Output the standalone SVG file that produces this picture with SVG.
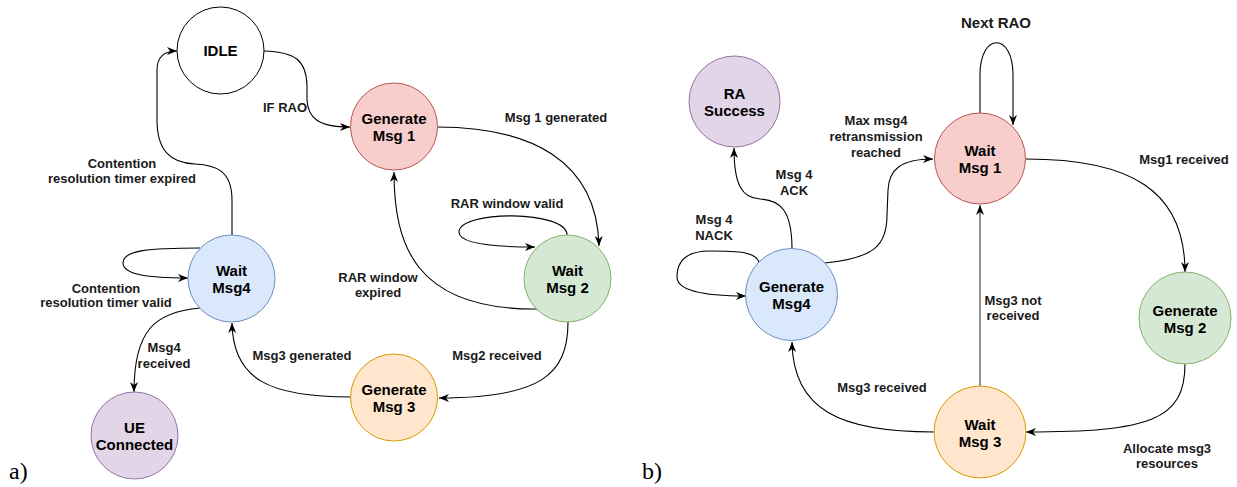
<svg xmlns="http://www.w3.org/2000/svg" width="1237" height="487" viewBox="0 0 1237 487">
<style>
.n{stroke-width:1}
.t{font-family:"Liberation Sans",Arial,sans-serif;font-weight:bold;font-size:15px;text-anchor:middle;fill:#000}
.l{font-family:"Liberation Sans",Arial,sans-serif;font-weight:bold;font-size:13px;text-anchor:middle;fill:#1a1a1a}
.e{fill:none;stroke:#000;stroke-width:1.1;marker-end:url(#arr)}
.g{fill:none;stroke:#555;stroke-width:1.3;marker-end:url(#arr)}
.red{fill:#f8cecc;stroke:#b85450}
.green{fill:#d5e8d4;stroke:#82b366}
.blue{fill:#dae8fc;stroke:#6c8ebf}
.orange{fill:#ffe6cc;stroke:#d79b00}
.purple{fill:#e1d5e7;stroke:#9673a6}
.white{fill:#fff;stroke:#000}
.cap{font-family:"Liberation Serif","Times New Roman",serif;font-size:24px;fill:#000}
</style>
<defs>
<marker id="arr" markerUnits="userSpaceOnUse" markerWidth="12" markerHeight="10" refX="10" refY="4" orient="auto">
<path d="M0,0 L10,4 L0,8 L3,4 z" fill="#000"/>
</marker>
</defs>
<rect width="1237" height="487" fill="#fff"/>

<g id="connectors">
<path class="e" d="M264,51 C295,52 306,60 307,85 L307,100 C308,118 318,127 350,127"/>
<path class="e" d="M437,127 C530,127 597,160 599,246"/>
<path class="e" d="M567,235 C567,210 459,210 459,232 C459,245 500,247 535,247"/>
<path class="e" d="M537,309 C415,310 394,245 394,172"/>
<path class="e" d="M568,322 C568,375 540,398 439,398"/>
<path class="e" d="M351,397 C270,397 233,380 232,323"/>
<path class="e" d="M200,308 C155,312 134,330 134,392"/>
<path class="e" d="M200,248 C150,248 123,250 123,263 C123,275 150,278 188,278"/>
<path class="e" d="M232,235 L232,200 C232,170 215,165 195,164 C170,163 157,150 157,120 L157,70 C157,58 163,51 177,51"/>

<path class="e" d="M980,113 L980,75 C980,32 1013,32 1013,75 L1013,125"/>
<path class="e" d="M1026,159 C1130,159 1185,190 1185,272"/>
<path class="e" d="M1185,364 C1185,420 1150,432 1026,432"/>
<path class="g" d="M980,386 L980,205"/>
<path class="e" d="M934,432 C840,432 793,410 792,342"/>
<path class="e" d="M792,249 C792,210 780,200 760,199 C742,198 734,185 734,148"/>
<path class="e" d="M825,263 C875,258 887,245 887,215 L888,190 C889,170 900,159 933,159"/>
<path class="e" d="M759,262 C755,252 740,251 710,251 C685,251 677,262 677,277 C677,290 700,296 746,296"/>
</g>

<g id="edge-labels">
<text class="l" x="285" y="112">IF RAO</text>
<text class="l" x="122" y="168">Contention</text>
<text class="l" x="122" y="183">resolution timer expired</text>
<text class="l" x="556" y="122">Msg 1 generated</text>
<text class="l" x="507" y="208">RAR window valid</text>
<text class="l" x="378" y="282">RAR window</text>
<text class="l" x="378" y="297">expired</text>
<text class="l" x="106" y="293">Contention</text>
<text class="l" x="106" y="307">resolution timer valid</text>
<text class="l" x="164" y="352">Msg4</text>
<text class="l" x="164" y="368">received</text>
<text class="l" x="302" y="360">Msg3 generated</text>
<text class="l" x="497" y="360">Msg2 received</text>

<text class="l" x="996" y="28" style="font-size:15px">Next RAO</text>
<text class="l" x="876" y="125">Max msg4</text>
<text class="l" x="876" y="141">retransmission</text>
<text class="l" x="876" y="157">reached</text>
<text class="l" x="794" y="179">Msg 4</text>
<text class="l" x="794" y="195">ACK</text>
<text class="l" x="714" y="224">Msg 4</text>
<text class="l" x="714" y="240">NACK</text>
<text class="l" x="1184" y="164">Msg1 received</text>
<text class="l" x="1013" y="305">Msg3 not</text>
<text class="l" x="1013" y="320">received</text>
<text class="l" x="1167" y="453">Allocate msg3</text>
<text class="l" x="1167" y="468">resources</text>
<text class="l" x="882" y="392">Msg3 received</text>
</g>

<g id="idle"><circle class="n white" cx="220.5" cy="50.5" r="43.5"/><text class="t" x="220.5" y="56">IDLE</text></g>
<g id="gen-msg1"><circle class="n red" cx="394" cy="126.5" r="43.5"/><text class="t" x="394" y="124">Generate</text><text class="t" x="394" y="141">Msg 1</text></g>
<g id="wait-msg2"><circle class="n green" cx="567.5" cy="278.5" r="43.5"/><text class="t" x="567.5" y="276">Wait</text><text class="t" x="567.5" y="293">Msg 2</text></g>
<g id="gen-msg3"><circle class="n orange" cx="394" cy="397.5" r="43.5"/><text class="t" x="394" y="395">Generate</text><text class="t" x="394" y="412">Msg 3</text></g>
<g id="wait-msg4"><circle class="n blue" cx="231.5" cy="278.5" r="43.5"/><text class="t" x="231.5" y="276">Wait</text><text class="t" x="231.5" y="293">Msg4</text></g>
<g id="ue-connected"><circle class="n purple" cx="134.5" cy="435.5" r="43.5"/><text class="t" x="134.5" y="433">UE</text><text class="t" x="134.5" y="450">Connected</text></g>

<g id="ra-success"><circle class="n purple" cx="734.5" cy="101.5" r="45.5"/><text class="t" x="734.5" y="99">RA</text><text class="t" x="734.5" y="116">Success</text></g>
<g id="wait-msg1"><circle class="n red" cx="980" cy="158.5" r="45.5"/><text class="t" x="980" y="156">Wait</text><text class="t" x="980" y="173">Msg 1</text></g>
<g id="gen-msg4"><circle class="n blue" cx="791.5" cy="294.5" r="46"/><text class="t" x="791.5" y="292">Generate</text><text class="t" x="791.5" y="309">Msg4</text></g>
<g id="gen-msg2"><circle class="n green" cx="1185" cy="318" r="46"/><text class="t" x="1185" y="315.5">Generate</text><text class="t" x="1185" y="332.5">Msg 2</text></g>
<g id="wait-msg3"><circle class="n orange" cx="980" cy="432" r="46"/><text class="t" x="980" y="429.5">Wait</text><text class="t" x="980" y="446.5">Msg 3</text></g>

<text class="cap" x="9" y="479">a)</text>
<text class="cap" x="642" y="479">b)</text>
</svg>
